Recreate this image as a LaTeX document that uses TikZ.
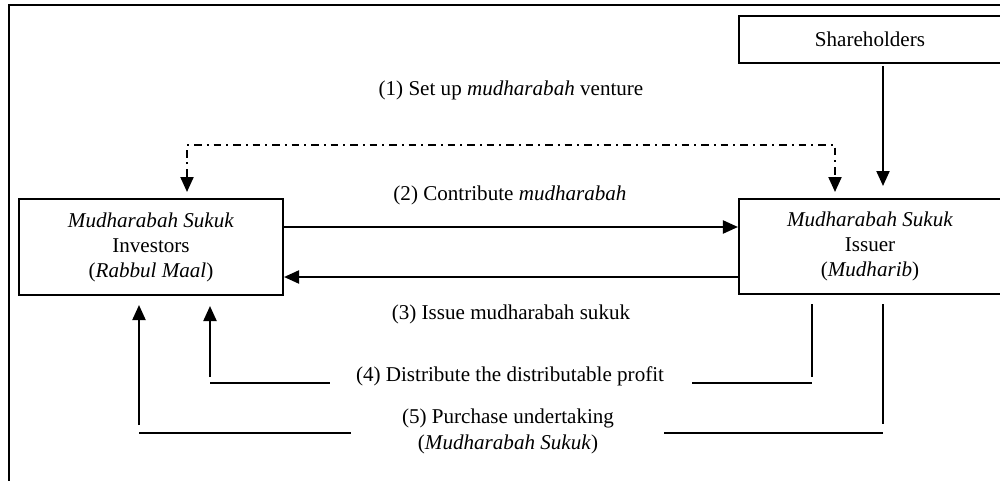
\documentclass[tikz,border=0pt]{standalone}
\usepackage{fontspec}
\setmainfont{Liberation Serif}
\usetikzlibrary{arrows.meta}
\tikzset{
  box/.style={draw, line width=1.2pt, inner sep=0pt, align=center, font=\fontsize{12}{14.2}\selectfont},
  lbl/.style={inner sep=0pt, align=center, font=\fontsize{12}{14.8}\selectfont},
  ln/.style={line width=1.2pt},
  arr/.style={line width=1.2pt, -{Triangle[length=3mm,width=2.6mm]}},
  dd/.style={line width=1.2pt, dash pattern=on 4.5pt off 2.8pt on 1pt off 2.8pt},
}
\begin{document}
\begin{tikzpicture}[x=0.02cm,y=-0.02cm]
\useasboundingbox (0,0) rectangle (1000,480);
\clip (0,0) rectangle (1000,480);
% outer frame (cut by the page edge)
\coordinate (f1) at (9,495);
\coordinate (f2) at (9,5);
\coordinate (f3) at (1015,5);
\draw[ln] (f1) -- (f2) -- (f3);

\node[box, minimum width=5.28cm, minimum height=1.92cm] (inv) at (151,247)
  {\textit{Mudharabah Sukuk}\\Investors\\(\textit{Rabbul Maal})};
\node[box, minimum width=5.24cm, minimum height=1.9cm] (iss) at (870,246.5)
  {\textit{Mudharabah Sukuk}\\Issuer\\(\textit{Mudharib})};
\node[box, minimum width=5.24cm, minimum height=0.94cm] (sh) at (870,39.5) {Shareholders};

% labels
\node[lbl] (l1) at (511,90) {(1) Set up \textit{mudharabah} venture};
\node[lbl] (l2) at (510,195) {(2) Contribute \textit{mudharabah}};
\node[lbl] (l3) at (511,314) {(3) Issue mudharabah sukuk};
\node[lbl] (l4) at (510,376) {(4) Distribute the distributable profit};
\node[lbl] (l5) at (508,431) {(5) Purchase undertaking\\(\textit{Mudharabah Sukuk})};

% shareholders -> issuer
\coordinate (shb) at (883,66);
\coordinate (sht) at (883,186);
\draw[arr] (shb) -- (sht);

% (1) dash-dot
\coordinate (d1) at (187,192);
\coordinate (d2) at (187,145);
\coordinate (d3) at (835,145);
\coordinate (d4) at (835,192);
\draw[dd] ([yshift=3mm]d1) -- (d2) -- (d3) -- ([yshift=3mm]d4);
\draw[arr] ([yshift=3.1mm]d1) -- (d1);
\draw[arr] ([yshift=3.1mm]d4) -- (d4);

% (2) and (3)
\draw[arr] (inv.east |- 0,227) -- (iss.west |- 0,227);
\draw[arr] (iss.west |- 0,277) -- (inv.east |- 0,277);

% (4)
\coordinate (a4t) at (210,306);
\coordinate (a4b) at (210,377);
\coordinate (h4a) at (210,383);
\coordinate (h4b) at (330,383);
\coordinate (h4c) at (692,383);
\coordinate (h4d) at (812,383);
\coordinate (v4a) at (812,304);
\coordinate (v4b) at (812,377);
\draw[arr] (a4b) -- (a4t);
\draw[ln] (h4a) -- (h4b);
\draw[ln] (h4c) -- (h4d);
\draw[ln] (v4a) -- (v4b);

% (5)
\coordinate (a5t) at (139,305);
\coordinate (a5b) at (139,425);
\coordinate (h5a) at (139,433);
\coordinate (h5b) at (351,433);
\coordinate (h5c) at (664,433);
\coordinate (h5d) at (883,433);
\coordinate (v5a) at (883,304);
\coordinate (v5b) at (883,424);
\draw[arr] (a5b) -- (a5t);
\draw[ln] (h5a) -- (h5b);
\draw[ln] (h5c) -- (h5d);
\draw[ln] (v5a) -- (v5b);
\end{tikzpicture}
\end{document}
